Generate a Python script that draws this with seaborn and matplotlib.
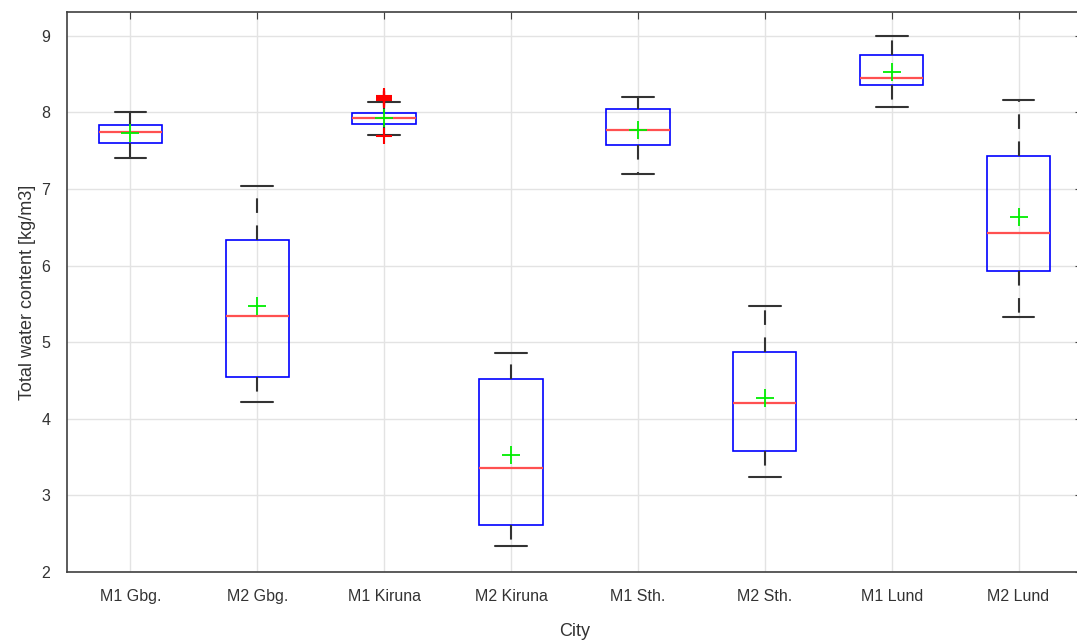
import matplotlib
matplotlib.use("Agg")
import matplotlib.pyplot as plt
import seaborn as sns
import pandas as pd
import numpy as np

# five-number summaries
cities = ["M1 Gbg.", "M2 Gbg.", "M1 Kiruna", "M2 Kiruna",
          "M1 Sth.", "M2 Sth.", "M1 Lund", "M2 Lund"]
whisk_lo = [7.41, 4.22, 7.70, 2.34, 7.19, 3.24, 8.07, 5.33]
q1 = [7.60, 4.54, 7.85, 2.61, 7.58, 3.58, 8.36, 5.93]
median = [7.75, 5.34, 7.93, 3.36, 7.77, 4.20, 8.45, 6.42]
q3 = [7.84, 6.33, 7.99, 4.52, 8.05, 4.87, 8.75, 7.43]
whisk_hi = [8.01, 7.04, 8.13, 4.86, 8.20, 5.47, 9.00, 8.16]
means = [7.73, 5.47, 7.93, 3.53, 7.77, 4.27, 8.53, 6.64]

# outliers (only M1 Kiruna)
outlier_city = ["M1 Kiruna"] * 7
outlier_val = [8.16, 8.17, 8.18, 8.19, 8.20, 8.21, 7.69]

rows = []
for i, c in enumerate(cities):
    for v in (whisk_lo[i], q1[i], median[i], q3[i], whisk_hi[i]):
        rows.append({"City": c, "value": v})
df = pd.DataFrame(rows)

sns.set_style("white")
plt.rcParams["font.family"] = ["Liberation Sans", "DejaVu Sans"]

fig = plt.figure(figsize=(10.77, 6.4), dpi=100)
ax = fig.add_axes([0.0622, 0.10625, 0.9424, 0.875])

sns.boxplot(data=df, x="City", y="value", order=cities, whis=(0, 100),
            width=0.5, showfliers=False, ax=ax,
            boxprops=dict(facecolor="none", edgecolor="#0000ff", linewidth=1.2),
            medianprops=dict(color="#ff5050", linewidth=1.6),
            whiskerprops=dict(color="#333333", linestyle=(0, (7, 6)), linewidth=1.5),
            capprops=dict(color="#333333", linewidth=1.5))

pos = np.arange(len(cities))
ax.plot(pos, means, linestyle="none", marker="+", color="#00ee00",
        markersize=13, markeredgewidth=1.3, zorder=5)
opos = [cities.index(c) for c in outlier_city]
ax.plot(opos, outlier_val, linestyle="none", marker="+",
        color="#ff0000", markersize=12, markeredgewidth=1.5, zorder=5)

ax.set_xlim(-0.5, 7.5)
ax.set_ylim(2, 9.31)
ax.set_yticks(range(2, 10))
ax.grid(True, color="#e3e3e3", linewidth=1)
ax.set_axisbelow(True)
ax.tick_params(direction="in", length=5, color="#404040", labelsize=11.5,
               labelcolor="#333333", top=True, right=True)
ax.tick_params(axis="x", pad=12)
ax.tick_params(axis="y", pad=12)
for s in ax.spines.values():
    s.set_color("#404040")
    s.set_linewidth(1.2)

ax.set_xlabel("City", fontsize=13, color="#333333", labelpad=14)
ax.set_ylabel("Total water content [kg/m3]", fontsize=13, color="#333333", labelpad=4)

fig.savefig("out.png", dpi=100)
